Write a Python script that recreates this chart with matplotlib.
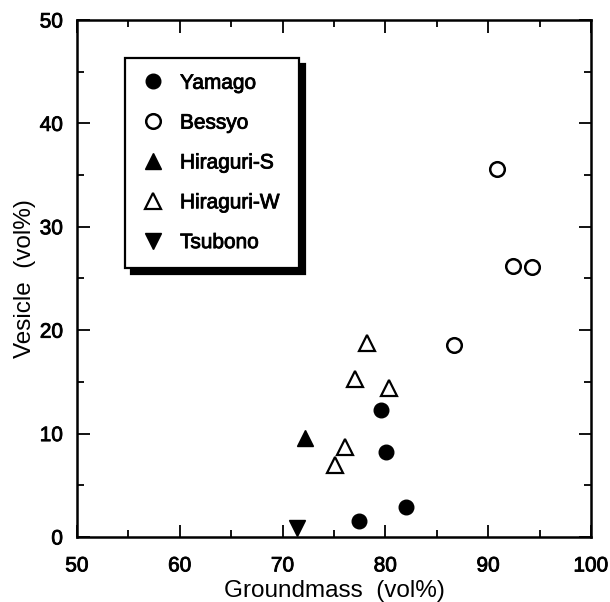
import matplotlib.pyplot as plt
import matplotlib.patheffects as pe
from matplotlib.ticker import MultipleLocator

plt.rcParams['font.family'] = ['Liberation Sans', 'DejaVu Sans']

# groundmass (vol%) / vesicle (vol%)
yamago_x = [79.6, 80.1, 82.0, 77.4]
yamago_y = [12.3, 8.2, 2.9, 1.5]
bessyo_x = [90.9, 92.4, 94.3, 86.7]
bessyo_y = [35.6, 26.2, 26.1, 18.6]
hiraS_x = [72.2]
hiraS_y = [9.6]
hiraW_x = [78.2, 77.0, 80.4, 76.1, 75.1]
hiraW_y = [18.8, 15.3, 14.4, 8.7, 7.0]
tsubono_x = [71.4]
tsubono_y = [0.9]

fig = plt.figure(figsize=(6.1, 6.02), dpi=100)
ax = fig.add_axes([0.1262, 0.108, 0.8426, 0.8588])

ms = 10.5
ax.plot(yamago_x, yamago_y, 'o', ms=ms, color='black', mfc='black', label='Yamago')
ax.plot(bessyo_x, bessyo_y, 'o', ms=ms, color='black', mfc='white', mew=1.8, label='Bessyo')
ax.plot(hiraS_x, hiraS_y, '^', ms=ms + 1, color='black', mfc='black', label='Hiraguri-S')
ax.plot(hiraW_x, hiraW_y, '^', ms=ms + 0.5, color='black', mfc='white', mew=1.6, label='Hiraguri-W')
ax.plot(tsubono_x, tsubono_y, 'v', ms=ms + 1, color='black', mfc='black', label='Tsubono')

ax.set_xlim(50, 100)
ax.set_ylim(0, 50)
ax.xaxis.set_major_locator(MultipleLocator(10))
ax.xaxis.set_minor_locator(MultipleLocator(5))
ax.yaxis.set_major_locator(MultipleLocator(10))
ax.yaxis.set_minor_locator(MultipleLocator(5))
ax.tick_params(which='both', direction='in', top=True, right=True, width=1.3)
ax.tick_params(which='major', length=9, labelsize=15)
ax.tick_params(which='minor', length=5)
ax.tick_params(axis='x', which='major', pad=14)
ax.tick_params(axis='y', which='major', pad=10)
for sp in ax.spines.values():
    sp.set_linewidth(1.8)

ax.set_xlabel('Groundmass  (vol%)', fontsize=17.5, labelpad=3)
ax.set_ylabel('Vesicle  (vol%)', fontsize=17.5, labelpad=3)

leg = ax.legend(loc='upper left', bbox_to_anchor=(0.0934, 0.927, 0.3385, 0.0),
                mode='expand', prop={'size': 15}, labelspacing=1.0,
                borderpad=0.77, handlelength=1.13, handletextpad=0.74,
                borderaxespad=0, fancybox=False, framealpha=1,
                edgecolor='black',
                shadow={'ox': 4.5, 'oy': -4.5, 'color': 'black', 'alpha': 1})
leg.get_frame().set_linewidth(1.6)

# tick labels and legend text print a bit heavier in the original
thick = [pe.withStroke(linewidth=0.6, foreground='black')]
for t in ax.get_xticklabels() + ax.get_yticklabels() + leg.get_texts():
    t.set_path_effects(thick)

fig.savefig('out.png', dpi=100)
